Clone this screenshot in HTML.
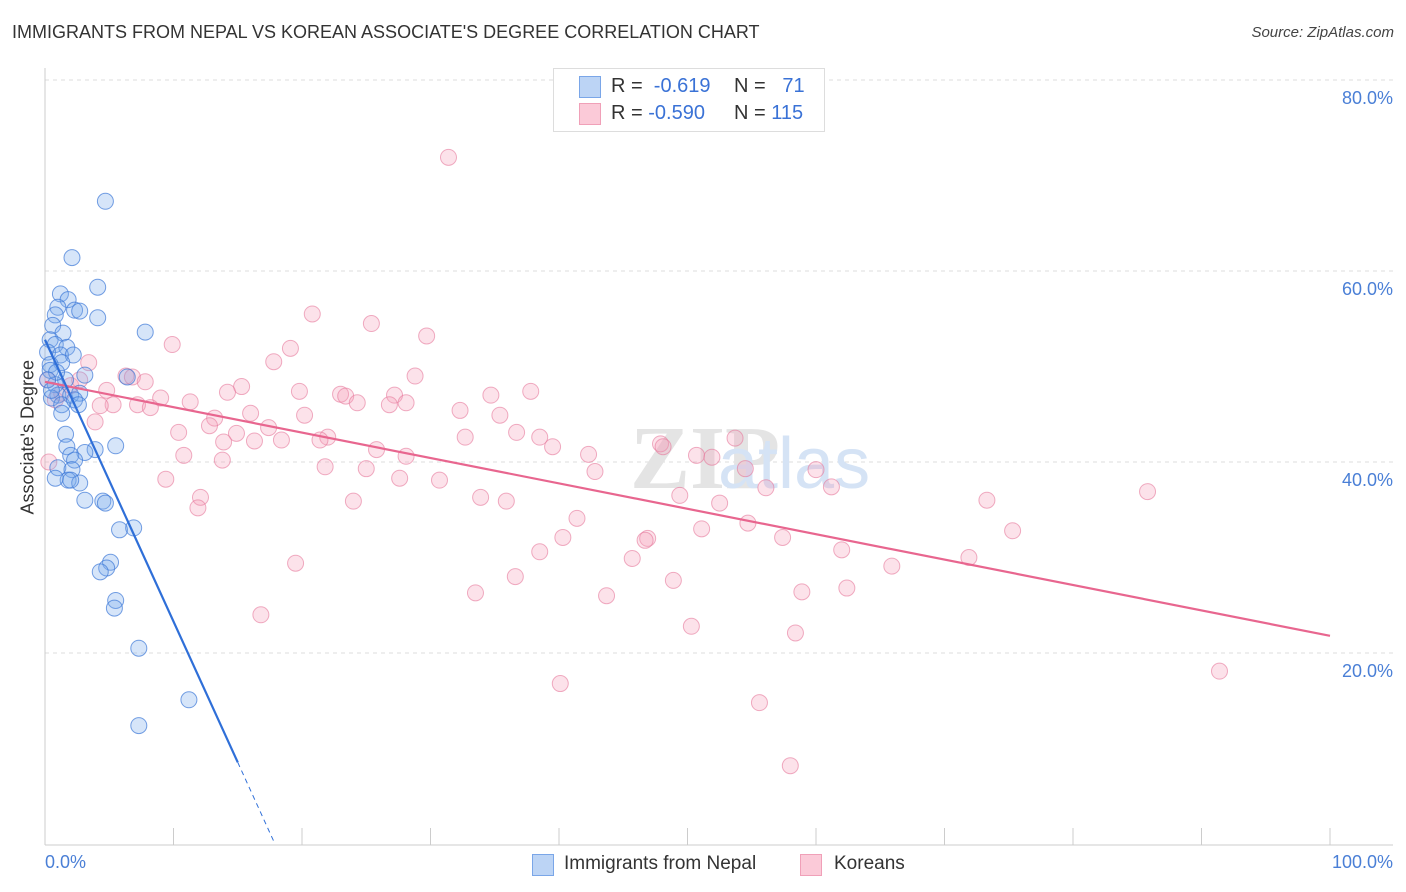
<!DOCTYPE html>
<html><head><meta charset="utf-8">
<style>
body{margin:0;background:#fff;font-family:"Liberation Sans",sans-serif;}
#wrap{position:relative;width:1406px;height:892px;overflow:hidden;}
.t{position:absolute;white-space:nowrap;}
</style></head>
<body>
<div id="wrap">
<div class="t" style="left:12px;top:22px;font-size:18px;color:#333;">IMMIGRANTS FROM NEPAL VS KOREAN ASSOCIATE'S DEGREE CORRELATION CHART</div>
<div class="t" style="right:12px;top:24px;font-size:15px;color:#444;font-style:italic;">Source: ZipAtlas.com</div>
<svg id="chart" width="1406" height="892" style="position:absolute;left:0;top:0;"></svg>
</div>
<script>
const blueX=[4.7,2.1,4.1,1.2,1.8,1.0,2.3,2.7,4.1,0.8,0.6,1.4,7.8,0.4,0.8,1.7,0.2,1.2,2.2,1.3,0.4,3.1,6.4,1.6,0.8,1.0,2.0,2.7,0.5,1.3,2.3,2.6,1.3,5.5,3.9,3.1,1.6,1.7,2.0,2.3,1.0,2.1,1.8,2.7,3.1,4.5,4.7,5.8,6.9,5.1,4.8,4.3,5.5,5.4,7.3,11.2,7.3,0.4,0.9,0.2,0.5,0.8,2.0];
const blueY=[67.3,61.4,58.3,57.6,57.0,56.2,55.9,55.8,55.1,55.4,54.3,53.5,53.6,52.8,52.3,52.0,51.5,51.2,51.2,50.4,50.2,49.1,48.9,48.6,48.1,47.0,47.0,47.2,46.7,46.0,46.5,46.0,45.1,41.7,41.3,41.0,42.9,41.6,40.7,40.2,39.4,39.2,38.1,37.8,36.0,35.9,35.7,32.9,33.1,29.5,28.9,28.5,25.5,24.7,20.5,15.1,12.4,49.6,49.4,48.6,47.5,38.3,38.1];
const pinkX=[31.4,20.8,25.4,29.7,9.9,19.1,3.4,17.8,28.8,37.8,6.3,6.8,7.8,4.8,15.3,14.2,19.8,23.0,23.4,27.2,34.7,9.0,11.3,5.3,7.2,8.2,4.3,24.3,26.8,28.1,32.3,16.0,20.2,35.4,13.2,3.9,10.4,14.9,17.4,22.0,12.8,36.7,38.5,39.5,47.9,48.1,53.7,13.9,16.3,18.4,21.4,32.7,25.8,28.1,10.8,13.8,42.3,50.7,51.9,54.5,60.0,21.8,25.0,27.6,30.7,9.4,42.8,56.1,61.2,49.4,52.5,24.0,33.9,35.9,12.1,11.9,41.4,73.3,85.8,75.3,54.7,51.1,57.4,46.9,40.3,38.5,62.0,46.7,45.7,71.9,65.9,19.5,36.6,48.9,62.4,33.5,43.7,58.9,16.8,50.3,58.4,91.4,40.1,55.6,58.0,0.3,0.8,1.3,2.0,2.7,0.2];
const pinkY=[71.9,55.5,54.5,53.2,52.3,51.9,50.4,50.5,49.0,47.4,49.0,48.9,48.4,47.5,47.9,47.3,47.4,47.1,46.9,47.0,47.0,46.7,46.3,46.0,46.0,45.7,45.9,46.2,46.0,46.2,45.4,45.1,44.9,44.9,44.6,44.2,43.1,43.0,43.6,42.6,43.8,43.1,42.6,41.6,41.9,41.6,42.5,42.1,42.2,42.3,42.3,42.6,41.3,40.6,40.7,40.2,40.8,40.7,40.5,39.3,39.2,39.5,39.3,38.3,38.1,38.2,39.0,37.3,37.4,36.5,35.7,35.9,36.3,35.9,36.3,35.2,34.1,36.0,36.9,32.8,33.6,33.0,32.1,32.0,32.1,30.6,30.8,31.8,29.9,30.0,29.1,29.4,28.0,27.6,26.8,26.3,26.0,26.4,24.0,22.8,22.1,18.1,16.8,14.8,8.2,40.0,46.5,47.2,48.0,48.6,48.6];
const blueTrend=[52.8,-2.95]; // intercept, slope
const pinkTrend=[48.4,-0.266];
const yTicks=[20,40,60,80];
const yTickLabels=["20.0%","40.0%","60.0%","80.0%"];
const xTicks=[0,10,20,30,40,50,60,70,80,90,100];

const NS="http://www.w3.org/2000/svg";
const svg=document.getElementById('chart');
const X0=45,X1=1330,Y0=844,PY=9.55;
const sx=v=>X0+(X1-X0)*v/100;
const sy=v=>Y0-v*PY;
function mk(tag,attrs){const e=document.createElementNS(NS,tag);for(const k in attrs)e.setAttribute(k,attrs[k]);svg.appendChild(e);return e;}

yTicks.forEach((t,i)=>{
  const g=mk('line',{x1:X0,x2:1393,y1:sy(t),y2:sy(t),stroke:'#ddd','stroke-dasharray':'4,4'});
  
  
  const tx=mk('text',{x:1393,y:sy(t)+24,'text-anchor':'end','font-size':18,fill:'#4a7fd6','font-family':'Liberation Sans,sans-serif'});
  tx.textContent=yTickLabels[i];
  
  
});
let a=mk('line',{x1:X0,x2:1393,y1:845,y2:845,stroke:'#ccc'});


a=mk('line',{x1:X0,x2:X0,y1:68,y2:845,stroke:'#ccc'});


xTicks.forEach(t=>{
  const l=mk('line',{x1:sx(t),x2:sx(t),y1:828,y2:845,stroke:'#ccc'});
  
  
});
const wm=mk('text',{x:630,y:488,'font-size':90,fill:'#e4e4e4','font-family':'Liberation Serif,serif','font-weight':'bold'});
wm.textContent='ZIP';


const wm2=mk('text',{x:718,y:488,'font-size':72,fill:'#d5e3f5','font-family':'Liberation Sans,sans-serif'});
wm2.textContent='atlas';



pinkX.forEach((x,i)=>{
  const c=mk('circle',{cx:sx(x),cy:sy(pinkY[i]),r:8,fill:'rgba(244,160,185,0.3)',stroke:'rgba(230,120,155,0.6)','stroke-width':1});
  
  
});
blueX.forEach((x,i)=>{
  const c=mk('circle',{cx:sx(x),cy:sy(blueY[i]),r:8,fill:'rgba(120,170,235,0.3)',stroke:'rgba(60,120,215,0.7)','stroke-width':1});
  
  
});
let l=mk('line',{x1:sx(0),y1:sy(pinkTrend[0]),x2:sx(100),y2:sy(pinkTrend[0]+pinkTrend[1]*100),stroke:'#e8668f','stroke-width':2.2});


const bEnd=15, bZero=-blueTrend[0]/blueTrend[1];
l=mk('line',{x1:sx(0),y1:sy(blueTrend[0]),x2:sx(bEnd),y2:sy(blueTrend[0]+blueTrend[1]*bEnd),stroke:'#2f6fd8','stroke-width':2.2});


l=mk('line',{x1:sx(bEnd),y1:sy(blueTrend[0]+blueTrend[1]*bEnd),x2:sx(bZero),y2:sy(0),stroke:'#2f6fd8','stroke-width':1,'stroke-dasharray':'5,4'});


</script>
<div class="t" style="left:-32px;top:444px;font-size:18px;color:#333;transform:rotate(-90deg);width:120px;text-align:center;">Associate's Degree</div>
<div class="t" style="left:45px;top:852px;font-size:18px;color:#4a7fd6;">0.0%</div>
<div class="t" style="right:13px;top:852px;font-size:18px;color:#4a7fd6;">100.0%</div>
<div style="position:absolute;left:553px;top:68px;width:270px;height:62px;border:1px solid #ddd;background:#fff;font-size:20px;">
  <div style="position:absolute;left:25px;top:7px;width:20px;height:20px;background:#bcd4f5;border:1px solid #7aa6e8;"></div>
  <div class="t" style="left:57px;top:6px;color:#333;">R = <span style="color:#3a72d6;">&nbsp;-0.619</span></div>
  <div class="t" style="left:180px;top:6px;color:#333;">N = <span style="color:#3a72d6;">&nbsp;&nbsp;71</span></div>
  <div style="position:absolute;left:25px;top:34px;width:20px;height:20px;background:#fbcad8;border:1px solid #f0a0b8;"></div>
  <div class="t" style="left:57px;top:33px;color:#333;">R = <span style="color:#3a72d6;">-0.590</span></div>
  <div class="t" style="left:180px;top:33px;color:#333;">N = <span style="color:#3a72d6;">115</span></div>
</div>
<div style="position:absolute;left:532px;top:853px;font-size:19px;color:#333;">
  <div style="position:absolute;left:0;top:0;width:260px;">
    <div style="position:absolute;left:0;top:1px;width:20px;height:20px;background:#bcd4f5;border:1px solid #7aa6e8;"></div>
    <div class="t" style="left:32px;top:0;">Immigrants from Nepal</div>
  </div>
  <div style="position:absolute;left:268px;top:0;width:140px;">
    <div style="position:absolute;left:0;top:1px;width:20px;height:20px;background:#fbcad8;border:1px solid #f0a0b8;"></div>
    <div class="t" style="left:34px;top:0;">Koreans</div>
  </div>
</div>
</body></html>
